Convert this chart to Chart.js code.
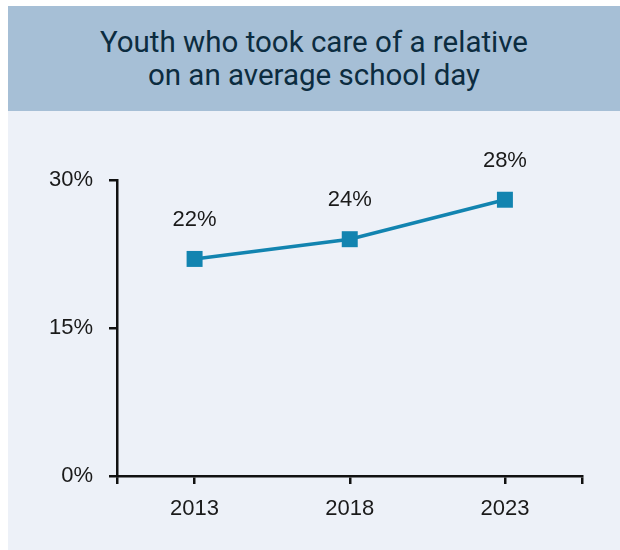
<!DOCTYPE html>
<html>
<head>
<meta charset="utf-8">
<script src="https://cdn.jsdelivr.net/npm/chart.js@4"></script>
<style>
  html, body { margin: 0; padding: 0; background: #ffffff; }
  body { width: 620px; height: 550px; position: relative; overflow: hidden; }
  #panel { position: absolute; left: 8px; top: 6px; width: 612px; height: 544px; background: #edf1f8; }
  #header {
    position: absolute; left: 0; top: 0; width: 612px; height: 105px; background: #a6bfd6;
    display: flex; align-items: center; justify-content: center; text-align: center;
    font-family: Roboto, Inter, sans-serif; font-size: 29.5px; line-height: 33px; color: #0c2c40;
  }
  #wrap { position: absolute; left: 0; top: 105px; width: 612px; height: 439px; }
</style>
</head>
<body>
<div id="panel">
  <div id="header">Youth who took care of a relative<br>on an average school day</div>
  <div id="wrap"><canvas id="c" width="612" height="439"></canvas></div>
</div>
<script>
// Survey years and share of youth (%) caring for a relative
const years = [2013, 2018, 2023];
const shares = [22, 24, 28];
const yTicks = [0, 15, 30];

const lineColor = '#1284b0';
const fontFamily = '"Liberation Sans", Arial, sans-serif';

// Writes "NN%" above each point
const valueLabels = {
  id: 'valueLabels',
  afterDatasetsDraw(chart) {
    const ctx = chart.ctx;
    const meta = chart.getDatasetMeta(0);
    ctx.save();
    ctx.font = '22px ' + fontFamily;
    ctx.fillStyle = '#1a1a1a';
    ctx.textAlign = 'center';
    ctx.textBaseline = 'middle';
    meta.data.forEach((pt, i) => {
      ctx.fillText(shares[i] + '%', pt.x, pt.y - 39);
    });
    ctx.restore();
  }
};

new Chart(document.getElementById('c'), {
  type: 'line',
  data: {
    datasets: [{
      data: years.map((y, i) => ({ x: y, y: shares[i] })),
      borderColor: lineColor,
      backgroundColor: lineColor,
      borderWidth: 3.5,
      pointStyle: 'rect',
      pointRadius: 11.3,
      pointHoverRadius: 11.3,
      pointBorderWidth: 0,
      clip: false,
      tension: 0
    }]
  },
  options: {
    responsive: false,
    animation: false,
    events: [],
    layout: { padding: { left: 0, right: 37.5, top: 69, bottom: 24 } },
    plugins: { legend: { display: false }, tooltip: { enabled: false } },
    scales: {
      x: {
        type: 'linear',
        min: 2010.5,
        max: 2025.5,
        afterBuildTicks(scale) {
          scale.ticks = [2010.5, ...years, 2025.5].map(v => ({ value: v }));
        },
        afterFit(scale) { scale.height = 50; },
        border: { display: true, color: '#111', width: 2.5 },
        grid: { drawOnChartArea: false, drawTicks: true, tickLength: 8, color: '#111', lineWidth: 2.5 },
        ticks: {
          padding: 12,
          color: '#1a1a1a',
          font: { family: fontFamily, size: 22 },
          maxRotation: 0,
          autoSkip: false,
          callback: (v) => years.includes(v) ? String(v) : ''
        }
      },
      y: {
        min: 0,
        max: 30,
        afterBuildTicks(scale) {
          scale.ticks = yTicks.map(v => ({ value: v }));
        },
        afterFit(scale) { scale.width = 109; },
        border: { display: true, color: '#111', width: 2.5 },
        grid: { drawOnChartArea: false, drawTicks: true, tickLength: 8, color: '#111', lineWidth: 2.5 },
        ticks: {
          padding: 16,
          color: '#1a1a1a',
          font: { family: fontFamily, size: 22 },
          callback: (v) => v + '%'
        }
      }
    }
  },
  plugins: [valueLabels]
});
</script>
</body>
</html>
